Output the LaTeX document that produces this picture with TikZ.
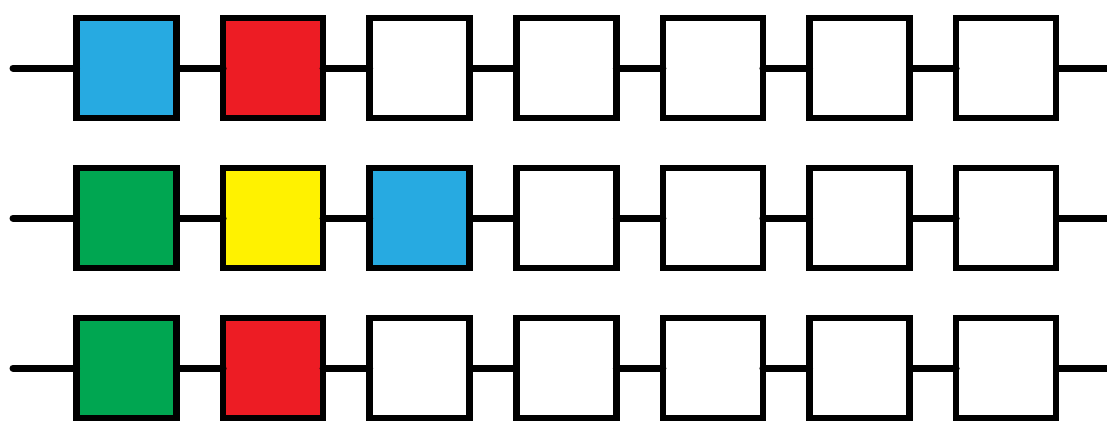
\documentclass[tikz,border=0pt]{standalone}
\definecolor{cblue}{HTML}{27AAE1}
\definecolor{cred}{HTML}{ED1C24}
\definecolor{cgreen}{HTML}{00A651}
\definecolor{cyellow}{HTML}{FFF200}
\begin{document}
\begin{tikzpicture}[x=1pt,y=-1pt,
  cell/.style={draw=black,line width=6.7pt,minimum width=100pt,minimum height=100pt,inner sep=0pt,outer sep=0pt},
  wire/.style={line width=7pt,line cap=round}]
\useasboundingbox (0,0) rectangle (1107,421);
\foreach \r/\cols in {0/{cblue,cred,white,white,white,white,white},1/{cgreen,cyellow,cblue,white,white,white,white},2/{cgreen,cred,white,white,white,white,white}}{
  \pgfmathsetmacro{\yy}{68+150*\r}
  \coordinate (L\r) at (13,\yy);
  \coordinate (R\r) at (1107,\yy);
  \foreach \c [count=\i from 0] in \cols {
    \node[cell,fill=\c] (n\r-\i) at ({126.5+146.6*\i},\yy) {};
  }
  \draw[wire] (L\r) -- (n\r-0.west);
  \foreach \i [evaluate=\i as \j using int(\i+1)] in {0,...,5}{
    \draw[wire] (n\r-\i.east) -- (n\r-\j.west);
  }
  \draw[wire,line cap=butt] (n\r-6.east) -- (R\r);
}
\end{tikzpicture}
\end{document}
